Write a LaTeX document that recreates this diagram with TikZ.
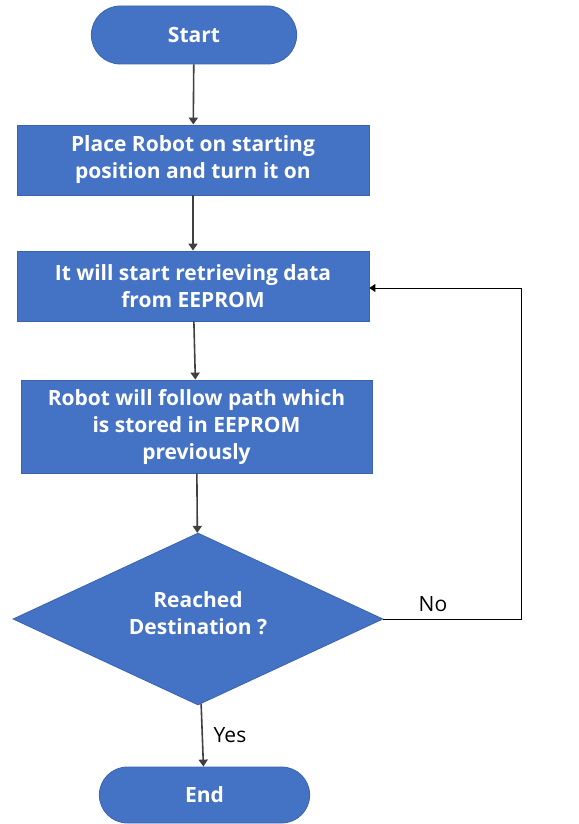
\documentclass[tikz,border=0pt]{standalone}
\usepackage{fontspec}
\setmainfont{Open Sans}
\usetikzlibrary{shapes.geometric,shapes.misc,arrows.meta}
\definecolor{boxblue}{HTML}{4472C4}
\definecolor{boxedge}{HTML}{3B64AE}
\definecolor{linegray}{HTML}{404040}
\tikzset{
  every node/.style={font=\fontsize{21}{27}\selectfont},
  term/.style={rounded rectangle, fill=boxblue, draw=boxedge, line width=0.8pt, text=white, font=\fontsize{21}{27}\selectfont\bfseries},
  proc/.style={rectangle, fill=boxblue, draw=boxedge, line width=0.8pt, text=white, align=center, font=\fontsize{21}{27}\selectfont\bfseries},
  dec/.style={diamond, aspect=2.15, fill=boxblue, draw=boxedge, line width=0.8pt, inner sep=0pt},
  dectext/.style={text=white, align=center, font=\fontsize{21}{27}\selectfont\bfseries},
  flow/.style={draw=linegray, line width=1.6pt, -{Triangle[width=9pt,length=7pt]}},
  back/.style={draw=black, line width=0.9pt, -{Triangle[width=8pt,length=6pt]}},
  lbl/.style={text=black, font=\fontsize{21}{24}\selectfont}
}
\begin{document}
\begin{tikzpicture}[x=1pt,y=-1pt]
\path[use as bounding box, fill=white] (0,0) rectangle (578,824);
\node[term, minimum width=212pt, minimum height=58pt] (start) at (194,35) {Start};
\node[proc, minimum width=352pt, minimum height=70pt] (b1) at (193,160) {Place Robot on starting\\position and turn it on};
\node[proc, minimum width=352pt, minimum height=70pt] (b2) at (193,286) {It will start retrieving data\\from EEPROM};
\node[proc, minimum width=351pt, minimum height=93pt] (b3) at (196.5,426.5) {Robot will follow path which\\is stored in EEPROM\\previously};
\node[dec, minimum width=370pt, minimum height=172pt,
      label={[dectext, yshift=6pt]center:{Reached\\Destination ?}}] (dia) at (198,619) {};
\node[term, minimum width=217pt, minimum height=56pt] (end) at (204.5,795) {End};
\coordinate (fb) at (521,288);
\draw[flow] (start) -- (b1);
\draw[flow] (b1) -- (b2);
\draw[flow] (b2) -- (b3);
\draw[flow] (b3) -- (dia);
\draw[flow] (dia) -- (end);
\draw[back] (dia.east) -| (fb) -- (fb -| b2.east);
\node[lbl] (no) at (433,604) {No};
\node[lbl] (yes) at (230,735) {Yes};
\end{tikzpicture}
\end{document}
